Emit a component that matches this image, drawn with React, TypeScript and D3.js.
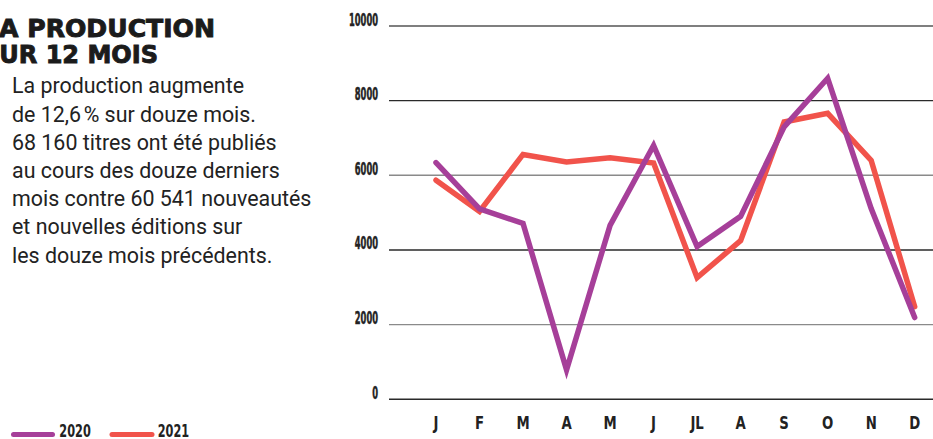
import React from "react";
import * as d3 from "d3";

const months = ["J", "F", "M", "A", "M", "J", "JL", "A", "S", "O", "N", "D"];
const values2020 = [6340, 5100, 4710, 790, 4660, 6800, 4090, 4900, 7300, 8600, 5110, 2190];
const values2021 = [5870, 5030, 6560, 6360, 6470, 6330, 3260, 4250, 7430, 7660, 6400, 2480];
const yTicks = [0, 2000, 4000, 6000, 8000, 10000];
const titleLines = ["LA PRODUCTION", "SUR 12 MOIS"];
const bodyLines = [
  "La production augmente",
  "de 12,6\u202f% sur douze mois.",
  "68 160 titres ont été publiés",
  "au cours des douze derniers",
  "mois contre 60 541 nouveautés",
  "et nouvelles éditions sur",
  "les douze mois précédents.",
];
const seriesNames = ["2020", "2021"];

const W = 933;
const H = 439;
const PURPLE = "#a63f99";
const RED = "#f1534b";
const COND = "'Liberation Sans Narrow', 'DejaVu Sans Condensed', 'Arial Narrow', sans-serif";

function CondText(props: {
  x: number;
  y: number;
  sx: number;
  size: number;
  anchor: "start" | "middle" | "end";
  stroke?: number;
  children: React.ReactNode;
}) {
  return (
    <text
      transform={`translate(${props.x},${props.y}) scale(${props.sx},1)`}
      textAnchor={props.anchor}
      fontFamily={COND}
      fontWeight={700}
      fontSize={props.size}
      fill="#222"
      stroke={props.stroke ? "#222" : "none"}
      strokeWidth={props.stroke || 0}
    >
      {props.children}
    </text>
  );
}

export default function App() {
  const idx = months.map((_, i) => i);
  const x = d3.scalePoint<number>().domain(idx).range([436, 914.7]);
  const y = d3.scaleLinear().domain([0, 10000]).range([399.3, 26]);
  const line = d3
    .line<number>()
    .x((_, i) => x(i) as number)
    .y((d) => y(d))
    .curve(d3.curveLinear);

  const gridColor = (v: number) => (v === 2000 || v === 6000 ? "#8a8a8a" : v === 10000 ? "#555" : "#2a2a2a");

  return (
    <svg
      width={W}
      height={H}
      style={{ position: "absolute", left: 0, top: 0, background: "#fff" }}
    >
      {/* title */}
      <g fontFamily="'DejaVu Sans', sans-serif" fontWeight={700} fontSize={24} fill="#1b1b1b" stroke="#1b1b1b" strokeWidth={0.9}>
        <text x={215} y={36.7} textAnchor="end" textLength={232} lengthAdjust="spacingAndGlyphs">{titleLines[0]}</text>
        <text x={158} y={63.3} textAnchor="end" textLength={176} lengthAdjust="spacingAndGlyphs">{titleLines[1]}</text>
      </g>
      {/* body */}
      <g fontFamily="Roboto, sans-serif" fontSize={21.4} fill="#222">
        {bodyLines.map((t, i) => (
          <text key={i} x={12} y={93.3 + i * 28.2}>{t}</text>
        ))}
      </g>
      {/* gridlines */}
      {yTicks.map((v) => (
        <g key={v}>
          <line x1={389} x2={W} y1={y(v)} y2={y(v)} stroke={gridColor(v)} strokeWidth={1.4} />
          <CondText x={378} y={y(v) - 0.5} sx={0.53} size={17.5} anchor="end" stroke={0.5}>{v}</CondText>
        </g>
      ))}
      {/* x labels */}
      {months.map((m, i) => (
        <CondText key={i} x={x(i) as number} y={428.5} sx={0.82} size={18} anchor="middle">{m}</CondText>
      ))}
      {/* lines */}
      <path d={line(values2021) || ""} fill="none" stroke={RED} strokeWidth={5.5} strokeLinejoin="miter" strokeLinecap="round" />
      <path d={line(values2020) || ""} fill="none" stroke={PURPLE} strokeWidth={5.5} strokeLinejoin="miter" strokeLinecap="round" />
      {/* legend */}
      <g>
        <line x1={13.5} x2={52.5} y1={434.5} y2={434.5} stroke={PURPLE} strokeWidth={5} strokeLinecap="round" />
        <CondText x={59.3} y={436.5} sx={0.68} size={18.5} anchor="start">{seriesNames[0]}</CondText>
        <line x1={112} x2={152} y1={434.5} y2={434.5} stroke={RED} strokeWidth={5} strokeLinecap="round" />
        <CondText x={157.7} y={436.5} sx={0.68} size={18.5} anchor="start">{seriesNames[1]}</CondText>
      </g>
    </svg>
  );
}
